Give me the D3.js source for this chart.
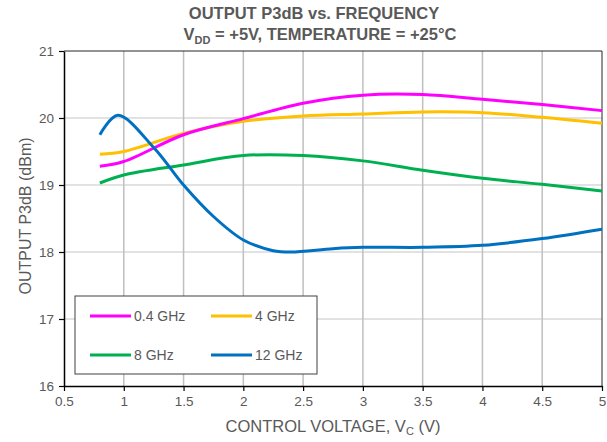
<!DOCTYPE html>
<html><head><meta charset="utf-8">
<script src="https://cdn.jsdelivr.net/npm/d3@7"></script>
<style>body{margin:0;background:#fff}svg{font-family:"Liberation Sans",Arial,sans-serif}</style>
</head><body><svg id="c" width="607" height="442"></svg>
<script>
const xTicks = [0.5,1,1.5,2,2.5,3,3.5,4,4.5,5];
const yTicks = [16,17,18,19,20,21];
const seriesNames = ["0.4 GHz","4 GHz","8 GHz","12 GHz"];
const seriesColors = ["#FF00FF","#FFC000","#00B050","#0070C0"];
const vc = [0.8,1,1.5,2,2.5,3,3.5,4,4.5,5];
const p04 = [19.28,19.35,19.75,19.99,20.22,20.34,20.35,20.28,20.2,20.11];
const p4  = [19.46,19.5,19.77,19.95,20.03,20.06,20.09,20.08,20.01,19.92];
const p8  = [19.03,19.15,19.3,19.44,19.44,19.36,19.22,19.1,19.01,18.91];
const vc12 = [0.8,0.95,1.25,1.5,1.75,2,2.25,2.4,2.75,3,3.5,4,4.5,5];
const p12 = [19.75,20.04,19.56,19.0,18.53,18.18,18.02,18.0,18.05,18.07,18.07,18.1,18.2,18.34];

const svg = d3.select("#c");
const L=64,R=602,T=51,B=386;
const x = d3.scaleLinear().domain([0.5,5]).range([L,R]);
const y = d3.scaleLinear().domain([16,21]).range([B,T]);
const txt="#595959";

// grid
svg.append("g").selectAll("line").data(yTicks.slice(1,-1)).join("line")
  .attr("x1",L).attr("x2",R).attr("y1",d=>y(d)).attr("y2",d=>y(d))
  .attr("stroke","#d9d9d9").attr("stroke-width",1.5);
svg.append("g").selectAll("line").data(xTicks.slice(1,-1)).join("line")
  .attr("y1",T).attr("y2",B).attr("x1",d=>x(d)).attr("x2",d=>x(d))
  .attr("stroke","#bfbfbf").attr("stroke-width",1.5);
// frame top/right
svg.append("line").attr("x1",L).attr("x2",R).attr("y1",T).attr("y2",T).attr("stroke","#262626").attr("stroke-width",1);
svg.append("line").attr("x1",R).attr("x2",R).attr("y1",T).attr("y2",B).attr("stroke","#262626").attr("stroke-width",1);

// axes
const xa = svg.append("g").attr("transform",`translate(0,${B})`)
  .call(d3.axisBottom(x).tickValues(xTicks).tickFormat(d3.format("")).tickSize(5).tickSizeOuter(0));
const ya = svg.append("g").attr("transform",`translate(${L},0)`)
  .call(d3.axisLeft(y).tickValues(yTicks).tickFormat(d3.format("d")).tickSize(5).tickSizeOuter(0));
[xa,ya].forEach(a=>{
  a.select(".domain").attr("stroke","#000").attr("stroke-width",1.5);
  a.selectAll(".tick line").attr("stroke","#000").attr("stroke-width",1.2);
  a.selectAll(".tick text").attr("fill",txt).style("font-size","13.5px").style("font-family","Liberation Sans, Arial, sans-serif");
});
xa.selectAll(".tick text").attr("dy","0.9em");
ya.selectAll(".tick text").attr("dx","-2px");

// lines
const line = d3.line().x(d=>x(d[0])).y(d=>y(d[1])).curve(d3.curveCatmullRom.alpha(0.5));
const data = [d3.zip(vc,p04), d3.zip(vc,p4), d3.zip(vc,p8), d3.zip(vc12,p12)];
[2,1,0,3].forEach(i=>{
  svg.append("path").attr("d",line(data[i])).attr("fill","none")
    .attr("stroke",seriesColors[i]).attr("stroke-width",3);
});

// legend
svg.append("rect").attr("x",75).attr("y",296).attr("width",242).attr("height",78)
  .attr("fill","#fff").attr("stroke","#404040").attr("stroke-width",1);
const lpos=[[90,316],[211,316],[90,355],[211,355]];
seriesNames.forEach((n,i)=>{
  const [lx,ly]=lpos[i];
  svg.append("line").attr("x1",lx).attr("x2",lx+41).attr("y1",ly).attr("y2",ly)
    .attr("stroke",seriesColors[i]).attr("stroke-width",3);
  svg.append("text").attr("x",lx+44).attr("y",ly+5).attr("fill",txt).style("font-size","14px").text(n);
});

// titles
const t = svg.append("text").attr("text-anchor","middle").attr("fill",txt).style("font-weight","bold").style("font-size","16.5px");
t.append("tspan").attr("x",314).attr("y",19).text("OUTPUT P3dB vs. FREQUENCY");
const t2 = svg.append("text").attr("x",320).attr("y",40).attr("text-anchor","middle").attr("fill",txt).style("font-weight","bold").style("font-size","16.5px");
t2.append("tspan").text("V");
t2.append("tspan").attr("dy",4).style("font-size","11px").text("DD");
t2.append("tspan").attr("dy",-4).text(" = +5V, TEMPERATURE = +25°C");

const xt = svg.append("text").attr("x",333).attr("y",432).attr("text-anchor","middle").attr("fill",txt).style("font-size","16.5px");
xt.append("tspan").text("CONTROL VOLTAGE, V");
xt.append("tspan").attr("dy",3).style("font-size","11px").text("C");
xt.append("tspan").attr("dy",-3).text(" (V)");

svg.append("text").attr("transform","translate(31,216) rotate(-90)").attr("text-anchor","middle")
  .attr("fill",txt).style("font-size","16px").text("OUTPUT P3dB (dBm)");
</script></body></html>
